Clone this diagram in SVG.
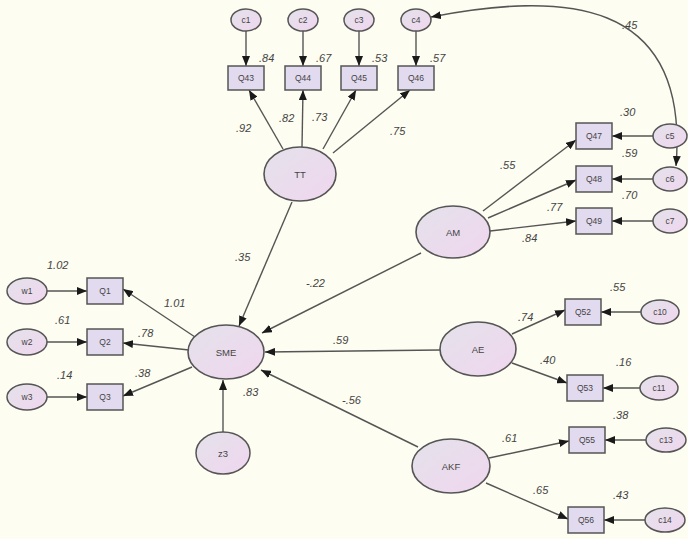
<svg xmlns="http://www.w3.org/2000/svg" width="688" height="539" viewBox="0 0 688 539">
<style>
.bg{fill:#fdfdf1}
.lat{fill:url(#g);stroke:#555;stroke-width:1.6}
.err{fill:url(#g);stroke:#555;stroke-width:1.5}
.box{fill:#e2daee;stroke:#555;stroke-width:1.5}
.nt{font-family:"Liberation Sans",Arial,sans-serif;font-size:9.5px;fill:#444;text-anchor:middle}
.et{font-family:"Liberation Sans",Arial,sans-serif;font-size:8.5px;fill:#444;text-anchor:middle}
.lb{font-family:"Liberation Sans",Arial,sans-serif;font-size:11px;font-style:italic;fill:#444}
.c line,.c path{stroke:#555;stroke-width:1.4;fill:none;marker-end:url(#ah)}
</style>
<defs>
<linearGradient id="g" x1="0" y1="0" x2="1" y2="1">
<stop offset="0" stop-color="#e4e2ea"/>
<stop offset="1" stop-color="#f0d6ef"/>
</linearGradient>
<marker id="ah" viewBox="0 0 10 8" refX="10" refY="4" markerWidth="10" markerHeight="8" orient="auto-start-reverse" markerUnits="userSpaceOnUse">
<path d="M0,0 L10,4 L0,8 z" fill="#1a1a1a"/>
</marker>
</defs>
<rect class="bg" x="0" y="0" width="688" height="539"/>

<g id="connectors" class="c">
<line x1="246" y1="31" x2="246" y2="66"/>
<line x1="303" y1="31" x2="303" y2="66"/>
<line x1="359" y1="31" x2="359" y2="66"/>
<line x1="416" y1="31" x2="416" y2="66"/>
<line x1="283" y1="149" x2="249" y2="90"/>
<line x1="302" y1="147" x2="303" y2="90"/>
<line x1="323" y1="149" x2="356" y2="90"/>
<line x1="333" y1="153" x2="410" y2="90"/>
<path d="M431,17 C560,-8 690,-5 676,166" style="marker-start:url(#ah)"/>
<line x1="292" y1="202" x2="239" y2="326"/>
<line x1="421" y1="253" x2="262" y2="333"/>
<line x1="440" y1="350" x2="265" y2="352"/>
<line x1="418" y1="447" x2="261" y2="370"/>
<line x1="223" y1="432" x2="223" y2="380"/>
<line x1="195" y1="337" x2="123" y2="289"/>
<line x1="189" y1="350" x2="123" y2="343"/>
<line x1="192" y1="367" x2="123" y2="396"/>
<line x1="47" y1="291" x2="87" y2="291"/>
<line x1="47" y1="342" x2="87" y2="342"/>
<line x1="47" y1="397" x2="87" y2="397"/>
<line x1="483" y1="211" x2="576" y2="140"/>
<line x1="488" y1="218" x2="576" y2="180"/>
<line x1="490" y1="231" x2="576" y2="221"/>
<line x1="653" y1="136" x2="612" y2="136"/>
<line x1="653" y1="179" x2="612" y2="179"/>
<line x1="653" y1="221" x2="612" y2="221"/>
<line x1="512" y1="334" x2="565" y2="310"/>
<line x1="512" y1="363" x2="567" y2="383"/>
<line x1="641" y1="312" x2="601" y2="312"/>
<line x1="640" y1="388" x2="603" y2="388"/>
<line x1="489" y1="458" x2="569" y2="441"/>
<line x1="486" y1="483" x2="568" y2="519"/>
<line x1="646" y1="440" x2="605" y2="440"/>
<line x1="645" y1="520" x2="604" y2="520"/>
</g>

<g id="c1"><ellipse class="err" cx="246" cy="20" rx="15" ry="11"/><text class="et" x="246" y="23">c1</text></g>
<g id="c2"><ellipse class="err" cx="303" cy="20" rx="15" ry="11"/><text class="et" x="303" y="23">c2</text></g>
<g id="c3"><ellipse class="err" cx="359" cy="20" rx="15" ry="11"/><text class="et" x="359" y="23">c3</text></g>
<g id="c4"><ellipse class="err" cx="416" cy="20" rx="15" ry="11"/><text class="et" x="416" y="23">c4</text></g>

<g id="Q43"><rect class="box" x="228" y="66" width="36" height="24"/><text class="et" x="246" y="81">Q43</text></g>
<g id="Q44"><rect class="box" x="285" y="66" width="36" height="24"/><text class="et" x="303" y="81">Q44</text></g>
<g id="Q45"><rect class="box" x="341" y="66" width="36" height="24"/><text class="et" x="359" y="81">Q45</text></g>
<g id="Q46"><rect class="box" x="398" y="66" width="36" height="24"/><text class="et" x="416" y="81">Q46</text></g>

<g id="TT"><ellipse class="lat" cx="300" cy="174" rx="36" ry="27"/><text class="nt" x="300" y="178">TT</text></g>
<g id="AM"><ellipse class="lat" cx="453" cy="232" rx="37" ry="26"/><text class="nt" x="453" y="236">AM</text></g>
<g id="SME"><ellipse class="lat" cx="226" cy="352" rx="38" ry="27"/><text class="nt" x="226" y="356">SME</text></g>
<g id="AE"><ellipse class="lat" cx="478" cy="349" rx="38" ry="27"/><text class="nt" x="478" y="353">AE</text></g>
<g id="AKF"><ellipse class="lat" cx="451" cy="466" rx="39" ry="27"/><text class="nt" x="451" y="470">AKF</text></g>
<g id="z3"><ellipse class="err" cx="223" cy="453" rx="27" ry="21"/><text class="nt" x="223" y="457">z3</text></g>

<g id="w1"><ellipse class="err" cx="27" cy="291" rx="20" ry="13"/><text class="et" x="27" y="294">w1</text></g>
<g id="w2"><ellipse class="err" cx="27" cy="342" rx="20" ry="13"/><text class="et" x="27" y="345">w2</text></g>
<g id="w3"><ellipse class="err" cx="27" cy="397" rx="20" ry="13"/><text class="et" x="27" y="400">w3</text></g>
<g id="Q1"><rect class="box" x="87" y="278" width="36" height="26"/><text class="et" x="105" y="294">Q1</text></g>
<g id="Q2"><rect class="box" x="87" y="329" width="36" height="26"/><text class="et" x="105" y="345">Q2</text></g>
<g id="Q3"><rect class="box" x="87" y="384" width="36" height="26"/><text class="et" x="105" y="400">Q3</text></g>

<g id="Q47"><rect class="box" x="576" y="123" width="36" height="26"/><text class="et" x="594" y="139">Q47</text></g>
<g id="Q48"><rect class="box" x="576" y="166" width="36" height="26"/><text class="et" x="594" y="182">Q48</text></g>
<g id="Q49"><rect class="box" x="576" y="208" width="36" height="26"/><text class="et" x="594" y="224">Q49</text></g>
<g id="c5"><ellipse class="err" cx="670" cy="136" rx="17" ry="12"/><text class="et" x="670" y="139">c5</text></g>
<g id="c6"><ellipse class="err" cx="670" cy="179" rx="17" ry="12"/><text class="et" x="670" y="182">c6</text></g>
<g id="c7"><ellipse class="err" cx="670" cy="221" rx="17" ry="12"/><text class="et" x="670" y="224">c7</text></g>

<g id="Q52"><rect class="box" x="565" y="299" width="36" height="26"/><text class="et" x="583" y="315">Q52</text></g>
<g id="Q53"><rect class="box" x="567" y="375" width="36" height="26"/><text class="et" x="585" y="391">Q53</text></g>
<g id="c10"><ellipse class="err" cx="660" cy="312" rx="19" ry="12"/><text class="et" x="660" y="315">c10</text></g>
<g id="c11"><ellipse class="err" cx="659" cy="388" rx="19" ry="12"/><text class="et" x="659" y="391">c11</text></g>

<g id="Q55"><rect class="box" x="569" y="427" width="36" height="26"/><text class="et" x="587" y="443">Q55</text></g>
<g id="Q56"><rect class="box" x="568" y="507" width="36" height="26"/><text class="et" x="586" y="523">Q56</text></g>
<g id="c13"><ellipse class="err" cx="666" cy="440" rx="20" ry="12"/><text class="et" x="666" y="443">c13</text></g>
<g id="c14"><ellipse class="err" cx="665" cy="520" rx="20" ry="12"/><text class="et" x="665" y="523">c14</text></g>

<g id="labels">
<text class="lb" x="259" y="62">.84</text>
<text class="lb" x="316" y="62">.67</text>
<text class="lb" x="372" y="62">.53</text>
<text class="lb" x="430" y="62">.57</text>
<text class="lb" x="236" y="132">.92</text>
<text class="lb" x="279" y="122">.82</text>
<text class="lb" x="312" y="121">.73</text>
<text class="lb" x="390" y="135">.75</text>
<text class="lb" x="622" y="29">.45</text>
<text class="lb" x="620" y="116">.30</text>
<text class="lb" x="622" y="157">.59</text>
<text class="lb" x="622" y="199">.70</text>
<text class="lb" x="500" y="169">.55</text>
<text class="lb" x="547" y="211">.77</text>
<text class="lb" x="522" y="242">.84</text>
<text class="lb" x="235" y="261">.35</text>
<text class="lb" x="306" y="287">-.22</text>
<text class="lb" x="47" y="269">1.02</text>
<text class="lb" x="55" y="324">.61</text>
<text class="lb" x="57" y="379">.14</text>
<text class="lb" x="164" y="307">1.01</text>
<text class="lb" x="138" y="337">.78</text>
<text class="lb" x="135" y="377">.38</text>
<text class="lb" x="333" y="344">.59</text>
<text class="lb" x="342" y="404">-.56</text>
<text class="lb" x="243" y="396">.83</text>
<text class="lb" x="518" y="321">.74</text>
<text class="lb" x="540" y="364">.40</text>
<text class="lb" x="610" y="291">.55</text>
<text class="lb" x="616" y="366">.16</text>
<text class="lb" x="502" y="442">.61</text>
<text class="lb" x="533" y="494">.65</text>
<text class="lb" x="613" y="419">.38</text>
<text class="lb" x="613" y="499">.43</text>
</g>
</svg>
